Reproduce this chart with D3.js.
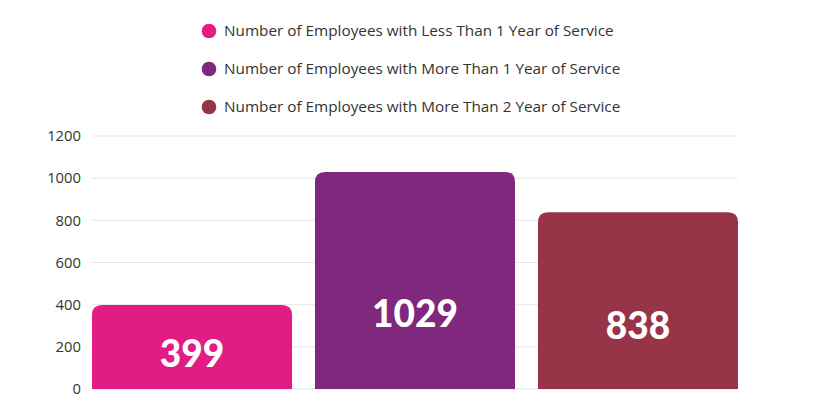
<!DOCTYPE html>
<html>
<head>
<meta charset="utf-8">
<script src="https://cdn.jsdelivr.net/npm/d3@7/dist/d3.min.js"></script>
<style>
  html, body { margin: 0; padding: 0; background: #fff; }
  svg { display: block; }
</style>
</head>
<body>
<svg id="chart" width="820" height="407"></svg>
<script>
const categories = [
  "Number of Employees with Less Than 1 Year of Service",
  "Number of Employees with More Than 1 Year of Service",
  "Number of Employees with More Than 2 Year of Service"
];
const values = [399, 1029, 838];
const colors = ["#E21C85", "#80287D", "#983447"];
const yTicks = [0, 200, 400, 600, 800, 1000, 1200];

const W = 820, H = 407;
const margin = { left: 92, right: 82, top: 136, bottom: 18 };
const svg = d3.select("#chart");

const x = d3.scaleBand().domain(categories).range([margin.left, W - margin.right]).paddingInner(0.103).paddingOuter(0);
const y = d3.scaleLinear().domain([0, 1200]).range([H - margin.bottom, margin.top]);

// gridlines
svg.append("g").selectAll("line").data(yTicks).join("line")
  .attr("x1", margin.left).attr("x2", W - margin.right)
  .attr("y1", d => y(d)).attr("y2", d => y(d))
  .attr("stroke", "#e6e6e6").attr("stroke-width", 1);

// y axis
const yAxis = d3.axisLeft(y).tickValues(yTicks).tickFormat(d3.format("d")).tickSize(0).tickPadding(11);
const gy = svg.append("g").attr("transform", `translate(${margin.left},0)`).call(yAxis);
gy.select(".domain").remove();
gy.selectAll("text").attr("font-family", "'Open Sans', sans-serif").attr("font-size", 14.8).attr("fill", "#333");

// bars with rounded top
const r = 10;
function barPath(x0, w, yTop, yBot) {
  const rr = Math.min(r, (yBot - yTop), w / 2);
  return `M${x0},${yBot}V${yTop + rr}Q${x0},${yTop} ${x0 + rr},${yTop}H${x0 + w - rr}Q${x0 + w},${yTop} ${x0 + w},${yTop + rr}V${yBot}Z`;
}
svg.append("g").selectAll("path").data(values).join("path")
  .attr("d", (d, i) => barPath(x(categories[i]), x.bandwidth(), y(d), y(0)))
  .attr("fill", (d, i) => colors[i]);

// value labels
svg.append("g").selectAll("text").data(values).join("text")
  .attr("x", (d, i) => x(categories[i]) + x.bandwidth() / 2)
  .attr("y", d => y(0) - (y(0) - y(d)) * 0.3 - 10)
  .attr("dy", "0.36em")
  .attr("text-anchor", "middle")
  .attr("font-family", "Lato, sans-serif")
  .attr("font-weight", 900)
  .attr("font-size", 37)
  .attr("fill", "#fff")
  .text(d => d);

// legend
const legend = svg.append("g").attr("transform", "translate(209,31)");
const items = legend.selectAll("g").data(categories).join("g")
  .attr("transform", (d, i) => `translate(0,${i * 38})`);
items.append("circle").attr("r", 7.3).attr("fill", (d, i) => colors[i]);
items.append("text").attr("x", 15).attr("dy", "0.35em")
  .attr("font-family", "'Open Sans', sans-serif").attr("font-size", 15.3).attr("fill", "#333")
  .text(d => d);
</script>
</body>
</html>
